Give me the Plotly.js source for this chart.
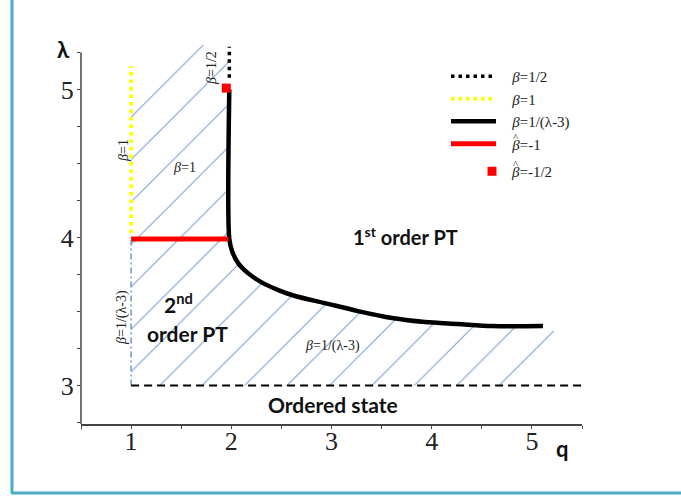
<!DOCTYPE html>
<html>
<head>
<meta charset="utf-8">
<script src="https://cdn.plot.ly/plotly-3.0.1.min.js"></script>
<style>html,body{margin:0;padding:0;background:#fff;}#chart{width:681px;height:499px;}</style>
</head>
<body>
<div id="chart"></div>
<script>
// ---- data ----
const qTickVals = [0.5, 1, 1.5, 2, 2.5, 3, 3.5, 4, 4.5, 5, 5.5];
const qTickText = ['', '1', '', '2', '', '3', '', '4', '', '5', ''];
const lTickVals = [2.75, 3, 3.25, 3.5, 3.75, 4, 4.25, 4.5, 4.75, 5, 5.25];
const lTickText = ['', '3', '', '', '', '4', '', '', '', '5', ''];

// beta = 1/2 : dotted black above q=2
const halfQ = [1.98, 1.98];
const halfL = [5.08, 5.29];
// beta = 1 : dotted yellow along q=1
const oneQ = [1, 1];
const oneL = [4.03, 5.16];
// beta = 1/(lambda-3) thin dash-dot along q=1
const thinQ = [1, 1];
const thinL = [3.0, 3.98];
// beta = 1/(lambda-3) : thick black boundary (vertical + curve)
const curveQ = [1.98, 1.98, 2.01, 2.07, 2.17, 2.303, 2.469, 2.636, 2.935, 3.264, 3.604, 3.933, 4.262, 4.602, 5.11];
const curveL = [5.0, 3.99, 3.904, 3.826, 3.758, 3.697, 3.645, 3.605, 3.557, 3.503, 3.456, 3.429, 3.416, 3.402, 3.402];
// beta-hat = -1 : thick red at lambda=4
const redQ = [1, 1.97];
const redL = [3.99, 3.99];
// beta-hat = -1/2 : red square
const sqQ = [1.95];
const sqL = [5.01];
// ordered state boundary
const ordQ = [1, 5.52];
const ordL = [3, 3];
// hatched (2nd order) region outline
const hatchQ = [1, 1, 1.5, 1.98, 1.98, 2.01, 2.07, 2.17, 2.303, 2.469, 2.636, 2.935, 3.264, 3.604, 3.933, 4.262, 4.602, 5.11, 5.25, 4.9, 1];
const hatchL = [3, 5.05, 5.3, 5.3, 3.99, 3.904, 3.826, 3.758, 3.697, 3.645, 3.605, 3.557, 3.503, 3.456, 3.429, 3.416, 3.402, 3.402, 3.36, 3.0, 3];

// ---- layout helpers (pixel -> paper) ----
const L = 81, R = 99, T = 40, B = 75, W = 681, H = 499;
const pw = W - L - R, ph = H - T - B;
const px = p => (p - L) / pw;
const py = p => (H - B - p) / ph;
const yRange = [2.74, 5.335];
const yToPaper = v => (v - yRange[0]) / (yRange[1] - yRange[0]);

const serif = 'Liberation Serif, Times New Roman, serif';
const bold = 'Lato, Open Sans, sans-serif';
const sp = '\u00a0\u00a0\u00a0';

const traces = [
  {x: hatchQ, y: hatchL, mode: 'lines', fill: 'toself', line: {width: 0, color: 'rgba(0,0,0,0)'},
   fillcolor: 'rgba(0,0,0,0)',
   fillpattern: {shape: '/', size: 30, solidity: 0.035, fgcolor: '#3f73c0', bgcolor: 'rgba(0,0,0,0)', fgopacity: 0.7},
   showlegend: false, hoverinfo: 'skip'},
  {x: thinQ, y: thinL, mode: 'lines', line: {color: '#6f97d3', width: 1.5, dash: '6px,3px,2px,3px'}, showlegend: false},
  {x: ordQ, y: ordL, mode: 'lines', line: {color: '#000', width: 2, dash: '8px,5px'}, showlegend: false},
  {x: halfQ, y: halfL, mode: 'lines', name: sp + '<i>β</i>=1/2', line: {color: '#000', width: 3.5, dash: '3.5px,4px'}},
  {x: oneQ, y: oneL, mode: 'lines', name: sp + '<i>β</i>=1', line: {color: '#ffff00', width: 4, dash: '3.5px,4px'}},
  {x: curveQ, y: curveL, mode: 'lines', name: sp + '<i>β</i>=1/(λ-3)', line: {color: '#000', width: 4.5, shape: 'spline', smoothing: 0.8}},
  {x: redQ, y: redL, mode: 'lines', name: sp + '<i>β</i>=-1', line: {color: '#ff0000', width: 5}},
  {x: sqQ, y: sqL, mode: 'markers', name: '<i>β</i>=-1/2', legend: 'legend2', marker: {color: '#ff0000', symbol: 'square', size: 9}}
];

const ann = (x, y, text, opts) => Object.assign({x: x, y: y, xref: 'paper', yref: 'paper', text: text, showarrow: false,
  xanchor: 'center', yanchor: 'middle',
  font: {family: serif, size: 14, color: '#222'}}, opts || {});
const boldFont = s => ({family: bold, size: s, color: '#111'});

const layout = {
  width: W, height: H,
  margin: {l: L, r: R, t: T, b: B, pad: 0},
  paper_bgcolor: '#fff', plot_bgcolor: '#fff',
  showlegend: true,
  legend: {x: px(446), y: py(60), xanchor: 'left', yanchor: 'top', bgcolor: 'rgba(0,0,0,0)',
    font: {family: serif, size: 15, color: '#222'}, itemwidth: 45, tracegroupgap: 0},
  legend2: {x: px(472), y: py(155), xanchor: 'left', yanchor: 'top', bgcolor: 'rgba(0,0,0,0)',
    font: {family: serif, size: 15, color: '#222'}, itemwidth: 30},
  xaxis: {range: [0.5, 5.5], tickvals: qTickVals, ticktext: qTickText, ticks: 'outside', ticklen: 3,
    tickcolor: '#444', tickwidth: 1, showline: true, linecolor: '#444', linewidth: 1.5,
    showgrid: false, zeroline: false, ticklabelstandoff: -10,
    tickfont: {family: serif, size: 26, color: '#222'}},
  yaxis: {range: yRange, tickvals: lTickVals, ticktext: lTickText, ticks: 'outside', ticklen: 3,
    tickcolor: '#444', tickwidth: 1, showline: false, showgrid: false, zeroline: false, ticklabelstandoff: -2,
    tickfont: {family: serif, size: 26, color: '#222'}},
  shapes: [
    {type: 'line', xref: 'paper', yref: 'paper', x0: 0, x1: 0, y0: 0, y1: yToPaper(5.25), line: {color: '#444', width: 1.5}},
    {type: 'line', xref: 'paper', yref: 'paper', x0: px(12), x1: px(12), y0: py(493), y1: py(0), line: {color: '#4bacc6', width: 3}},
    {type: 'line', xref: 'paper', yref: 'paper', x0: px(11), x1: px(681), y0: py(493), y1: py(493), line: {color: '#4bacc6', width: 3}}
  ],
  annotations: [
    ann(px(63), py(49), '<b>λ</b>', {font: boldFont(22)}),
    ann(px(562), py(448), '<b>q</b>', {font: boldFont(22)}),
    ann(px(212), py(68), '<i>β</i>=1/2', {textangle: -90}),
    ann(px(123), py(151), '<i>β</i>=1', {textangle: -90}),
    ann(px(184), py(167), '<i>β</i>=1'),
    ann(px(122), py(318), '<i>β</i>=1/(λ-3)', {textangle: -90}),
    ann(px(332), py(346), '<i>β</i>=1/(λ-3)'),
    ann(px(178), py(303), '<b>2<sup>nd</sup></b>', {font: boldFont(21)}),
    ann(px(187), py(333), '<b>order PT</b>', {font: boldFont(21)}),
    ann(px(405), py(236), '<b>1<sup>st</sup> order PT</b>', {font: boldFont(20)}),
    ann(px(333), py(404), '<b>Ordered state</b>', {font: boldFont(21)}),
    ann(px(516), py(137), '^', {font: {family: serif, size: 11, color: '#222'}}),
    ann(px(516), py(164), '^', {font: {family: serif, size: 11, color: '#222'}})
  ]
};

Plotly.newPlot('chart', traces, layout, {displayModeBar: false, staticPlot: true});
</script>
</body>
</html>
